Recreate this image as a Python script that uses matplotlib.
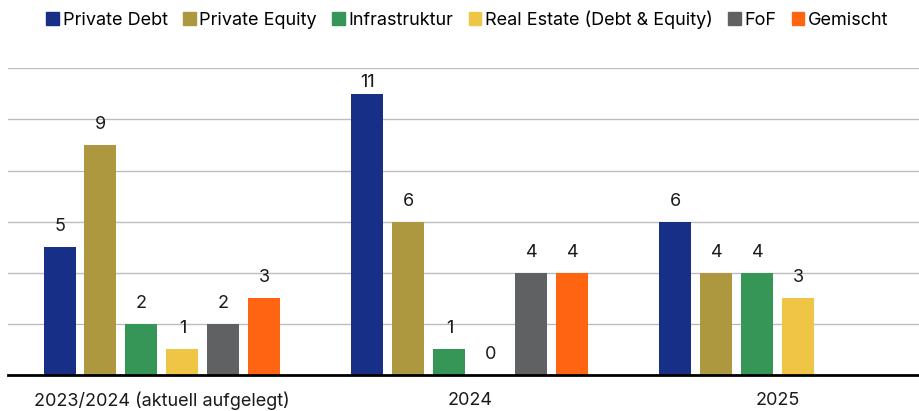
import numpy as np
import matplotlib.pyplot as plt
from matplotlib.patches import Patch

plt.rcParams['font.family'] = ['Inter', 'DejaVu Sans']

categories = ["2023/2024 (aktuell aufgelegt)", "2024", "2025"]
series = ["Private Debt", "Private Equity", "Infrastruktur",
          "Real Estate (Debt & Equity)", "FoF", "Gemischt"]
values = [
    [5, 11, 6],
    [9, 6, 4],
    [2, 1, 4],
    [1, 0, 3],
    [2, 4, np.nan],
    [3, 4, np.nan],
]
colors = ["#182F87", "#AD9840", "#359657", "#EEC544", "#606163", "#FF6510"]

fig = plt.figure(figsize=(9.2, 4.11), dpi=100)
ax = fig.add_axes([8 / 920, 1 - 375 / 411, 912 / 920, (375 - 68.4) / 411])

x = np.arange(len(categories))
slot = 41 / 308
width = 32 / 308
n = len(series)
for i, (name, vals, c) in enumerate(zip(series, values, colors)):
    pos = x + (i - (n - 1) / 2) * slot
    for xp, v in zip(pos, vals):
        if np.isnan(v):
            continue
        ax.bar(xp, v, width, color=c, zorder=3)
        # labels that would leave the plot area are pushed down
        ax.text(xp, min(v + 0.47, 11.1), f"{int(v)}", ha="center",
                va="bottom", fontsize=13, color="#1a1a1a")

ax.set_xlim(-0.5, 2.5 - 12 / 308)
ax.set_ylim(0, 12)
ax.set_yticks(np.arange(0, 13, 2))
ax.set_yticklabels([])
ax.tick_params(axis="y", length=0)
ax.grid(axis="y", color="#bdbdbd", linewidth=1, zorder=0)
ax.set_xticks(x)
ax.set_xticklabels(categories, fontsize=13, color="#1a1a1a")
ax.tick_params(axis="x", length=0, pad=12)
for s in ["top", "right", "left"]:
    ax.spines[s].set_visible(False)
ax.spines["bottom"].set_color("black")
ax.spines["bottom"].set_linewidth(2)
ax.spines["bottom"].set_zorder(4)

handles = [Patch(color=c, label=s) for s, c in zip(series, colors)]
fig.legend(handles=handles, loc="upper center", bbox_to_anchor=(0.508, 1.015),
           ncol=6, frameon=False, fontsize=13, handlelength=0.7,
           handleheight=0.7, handletextpad=0.2, columnspacing=0.85)

fig.savefig("out.png", dpi=100)
